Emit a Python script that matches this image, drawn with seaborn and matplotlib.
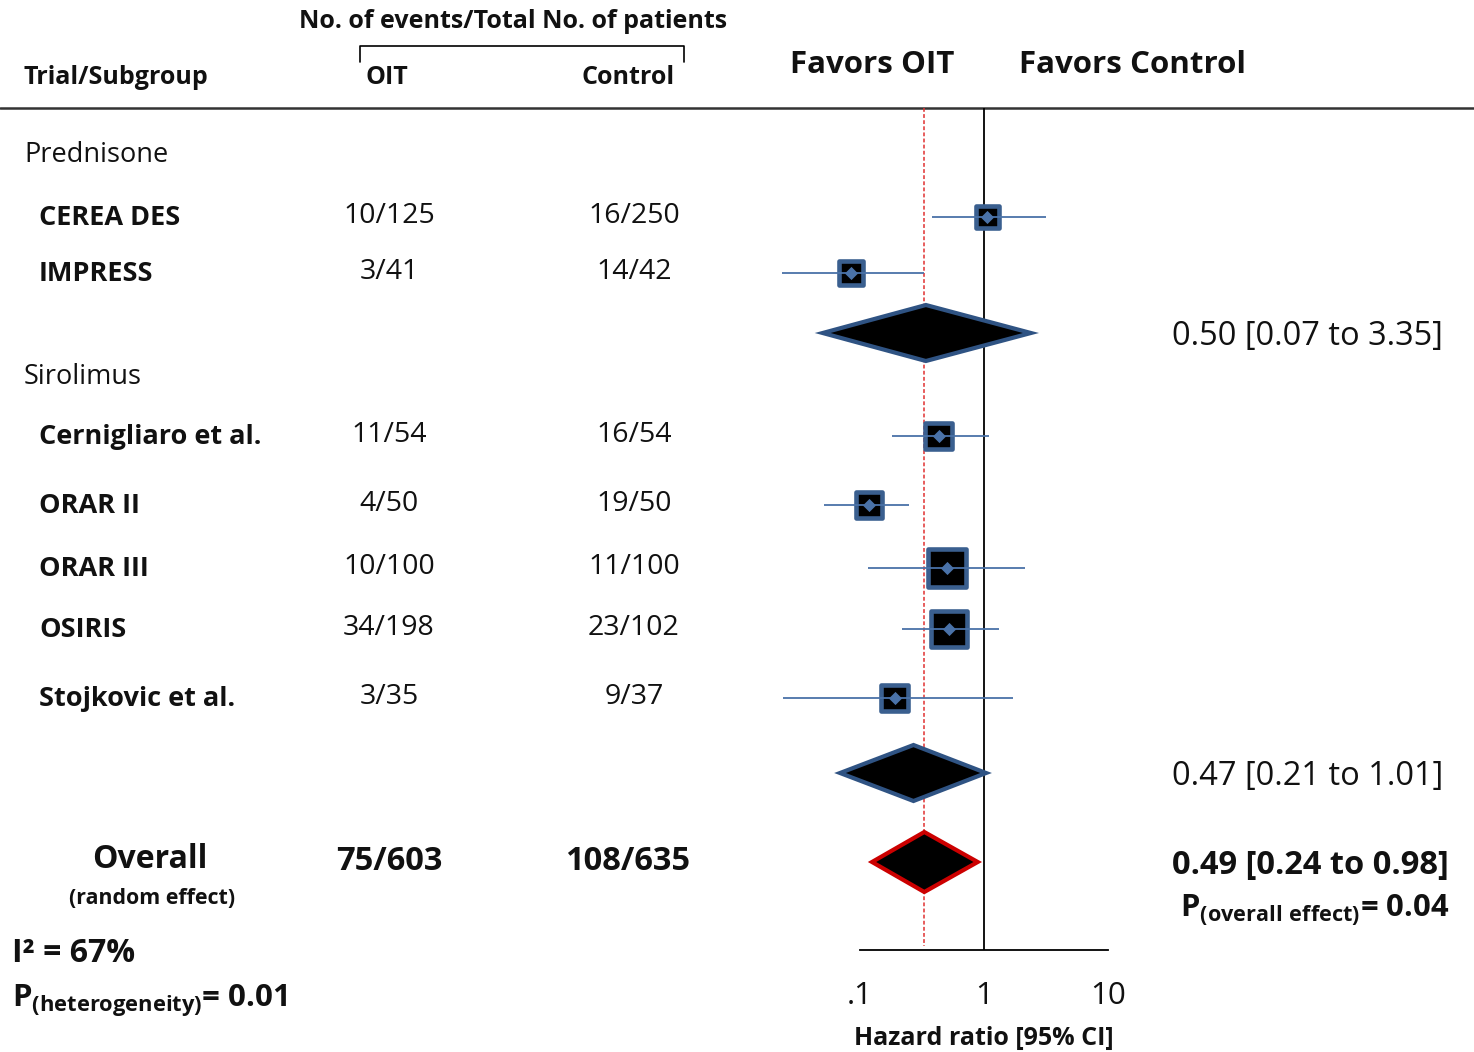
import numpy as np
import pandas as pd
import matplotlib
matplotlib.use("Agg")
import matplotlib.pyplot as plt
import seaborn as sns

# ---------------- data ----------------
studies = ["CEREA DES", "IMPRESS", "Cernigliaro et al.", "ORAR II", "ORAR III", "OSIRIS", "Stojkovic et al."]
subgroups = ["Prednisone", "Prednisone", "Sirolimus", "Sirolimus", "Sirolimus", "Sirolimus", "Sirolimus"]
oit_counts = ["10/125", "3/41", "11/54", "4/50", "10/100", "34/198", "3/35"]
control_counts = ["16/250", "14/42", "16/54", "19/50", "11/100", "23/102", "9/37"]
hr = [1.06, 0.085, 0.43, 0.118, 0.50, 0.52, 0.19]
ci_low = [0.38, 0.0235, 0.18, 0.051, 0.116, 0.22, 0.024]
ci_high = [3.16, 0.33, 1.10, 0.25, 2.14, 1.32, 1.71]
weight_pct = [8.7, 9.5, 12.1, 11.4, 24.6, 22.0, 11.8]

pooled_names = ["Prednisone", "Sirolimus", "Overall"]
pooled_hr = [0.34, 0.27, 0.33]
pooled_low = [0.050, 0.069, 0.125]
pooled_high = [2.39, 1.04, 0.89]
pooled_text = ["0.50 [0.07 to 3.35]", "0.47 [0.21 to 1.01]", "0.49 [0.24 to 0.98]"]
overall_oit = "75/603"
overall_control = "108/635"
i2_text = "I² = 67%"
p_het = "0.01"
p_overall = "0.04"
axis_ticks = [0.1, 1, 10]
axis_ticklabels = [".1", "1", "10"]

# ---------------- layout (pixel rows) ----------------
W, H = 1474, 1052
study_rows = [217, 273, 436, 505, 568, 629, 698]
pooled_rows = [333, 773, 862]
group_rows = {"Prednisone": 153, "Sirolimus": 375}

FONT = "Open Sans"
sns.set_theme(style="white")
plt.rcParams["font.family"] = [FONT, "DejaVu Sans"]
plt.rcParams["mathtext.fontset"] = "custom"
plt.rcParams["mathtext.rm"] = FONT
plt.rcParams["mathtext.bf"] = FONT + ":bold"

fig = plt.figure(figsize=(W / 100, H / 100), dpi=100)
fig.patch.set_facecolor("white")

# pixel overlay axes for text & rules
tx = fig.add_axes([0, 0, 1, 1])
tx.set_xlim(0, W)
tx.set_ylim(H, 0)
tx.axis("off")

# forest axes: full figure, log x, pixel y
x0_px, x1_px = 860, 1108  # pixel positions of 0.1 and 10
dec = (x1_px - x0_px) / 2.0
lo = -1 - x0_px / dec
hi = 1 + (W - x1_px) / dec
ax = fig.add_axes([0, 0, 1, 1], facecolor="none")

blue_line = "#4A72A8"
blue_edge = "#3A5F8F"

df = pd.DataFrame({"study": studies, "hr": hr, "lo": ci_low, "hi": ci_high,
                   "w": weight_pct, "row": study_rows})

# squares
sns.scatterplot(data=df, x="hr", y="row", size="w", sizes=(270, 740),
                size_norm=(min(weight_pct), max(weight_pct)),
                marker="s", color="black", edgecolor=blue_edge, linewidth=3.3,
                legend=False, ax=ax, zorder=3)
# inner point estimate diamonds
sns.scatterplot(data=df, x="hr", y="row", marker="D", color=blue_line, s=45,
                edgecolor=blue_line, linewidth=0, legend=False, ax=ax, zorder=5)
ax.set_xscale("log")
ax.set_xlim(10 ** lo, 10 ** hi)
ax.set_ylim(H, 0)
ax.axis("off")

# reference lines
ax.vlines(1, 108, 950, color="black", lw=1.3, zorder=1)
ax.vlines(pooled_hr[2], 108, 946, color="#E03030", lw=1.1, ls=(0, (2.5, 1.5)), zorder=1)

# CI lines
ax.hlines(df["row"], df["lo"], df["hi"], color=blue_line, lw=1.3, zorder=4)

# pooled diamonds
half_h = [28, 28, 30]
edges = ["#2F5383", "#2F5383", "#CC0000"]
for p_hr, p_lo, p_hi, r, hh, ec in zip(pooled_hr, pooled_low, pooled_high, pooled_rows, half_h, edges):
    ax.fill([p_lo, p_hr, p_hi, p_hr], [r, r - hh, r, r + hh], facecolor="black",
            edgecolor=ec, lw=3, joinstyle="miter", zorder=6)

# bottom axis
tc = "#111111"
bx = fig.add_axes([x0_px / W, (H - 950) / H, (x1_px - x0_px) / W, 0.0001], facecolor="none")
bx.set_xscale("log")
bx.set_xlim(0.1, 10)
bx.set_xticks(axis_ticks)
bx.set_xticklabels(axis_ticklabels, fontsize=22.5)
bx.minorticks_off()
bx.set_yticks([])
for s in ["top", "left", "right"]:
    bx.spines[s].set_visible(False)
bx.spines["bottom"].set_color("black")
bx.spines["bottom"].set_linewidth(1.3)
bx.tick_params(axis="x", direction="out", length=11, width=1.3, color="black", pad=11, labelcolor=tc)
bx.set_xlabel("Hazard ratio [95% CI]", fontsize=18, fontweight="bold", labelpad=11, color=tc)

# ---------------- header ----------------
tx.text(513, 22, "No. of events/Total No. of patients", ha="center", va="center", fontsize=18, fontweight="bold", color=tc)
tx.plot([360, 360, 684, 684], [62, 46, 46, 62], color="black", lw=1.2)
tx.text(24, 77, "Trial/Subgroup", ha="left", va="center", fontsize=18, fontweight="bold", color=tc)
tx.text(366, 77, "OIT", ha="left", va="center", fontsize=18, fontweight="bold", color=tc)
tx.text(628, 77, "Control", ha="center", va="center", fontsize=18, fontweight="bold", color=tc)
tx.text(872, 65, "Favors OIT", ha="center", va="center", fontsize=22.5, fontweight="bold", color=tc)
tx.text(1133, 65, "Favors Control", ha="center", va="center", fontsize=22.5, fontweight="bold", color=tc)
tx.plot([0, W], [108, 108], color="#333333", lw=1.8)

# subgroup labels
for g, r in group_rows.items():
    tx.text(24, r + 2, g, ha="left", va="center", fontsize=19.5, color=tc)

# study rows
for name, o, c, r in zip(studies, oit_counts, control_counts, study_rows):
    tx.text(39, r + 1, name, ha="left", va="center", fontsize=19.5, fontweight="bold", color=tc)
    tx.text(389, r - 1, o, ha="center", va="center", fontsize=20.5, color=tc)
    tx.text(634, r - 1, c, ha="center", va="center", fontsize=20.5, color=tc)

# pooled texts
for t, r, bold in zip(pooled_text, pooled_rows, [False, False, True]):
    tx.text(1172, r + 3, t, ha="left", va="center", fontsize=23.5, color=tc,
            fontweight="bold" if bold else "normal")

# overall row
tx.text(150, 860, "Overall", ha="center", va="center", fontsize=23, fontweight="bold", color=tc)
tx.text(152, 899, "(random effect)", ha="center", va="center", fontsize=15.4, fontweight="bold", color=tc)
tx.text(389, 862, overall_oit, ha="center", va="center", fontsize=23.5, fontweight="bold", color=tc)
tx.text(628, 862, overall_control, ha="center", va="center", fontsize=23.5, fontweight="bold", color=tc)

tx.text(1180, 910, r"$\mathbf{P}_{\mathbf{(overall\ effect)}}$" + "= " + p_overall, ha="left", va="center",
        fontsize=22.3, fontweight="bold", color=tc)
tx.text(12, 953, i2_text, ha="left", va="center", fontsize=23, fontweight="bold", color=tc)
tx.text(12, 1001, r"$\mathbf{P}_{\mathbf{(heterogeneity)}}$" + "= " + p_het, ha="left", va="center",
        fontsize=22.5, fontweight="bold", color=tc)

fig.savefig("out.png", dpi=100, facecolor="white")
